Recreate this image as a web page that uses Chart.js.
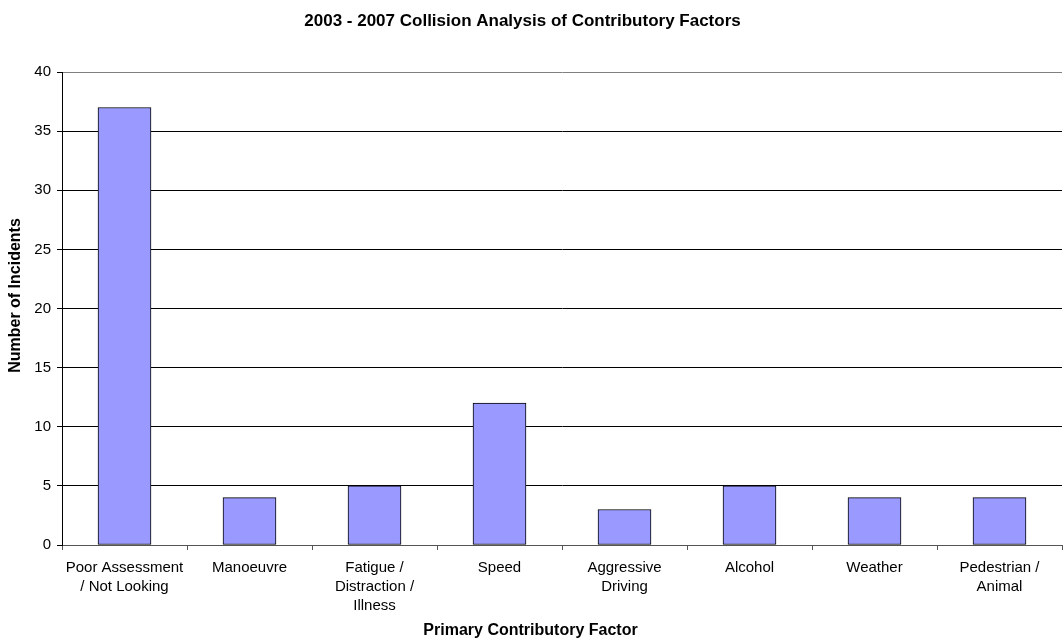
<!DOCTYPE html>
<html>
<head>
<meta charset="utf-8">
<title>2003 - 2007 Collision Analysis of Contributory Factors</title>
<script src="https://cdn.jsdelivr.net/npm/chart.js@4/dist/chart.umd.min.js"></script>
<style>
  html, body { margin: 0; padding: 0; background: #ffffff; }
  #wrap { width: 1063px; height: 641px; }
  canvas { display: block; }
</style>
</head>
<body>
<div id="wrap"><canvas id="chart" width="1063" height="641"></canvas></div>
<script>
// Chart text
const chartTitle = '2003 - 2007 Collision Analysis of Contributory Factors';
const xAxisTitle = 'Primary Contributory Factor';
const yAxisTitle = 'Number of Incidents';

// Categories (multi-line labels as arrays)
const categories = [
  ['Poor Assessment', '/ Not Looking'],
  'Manoeuvre',
  ['Fatigue /', 'Distraction /', 'Illness'],
  'Speed',
  ['Aggressive', 'Driving'],
  'Alcohol',
  'Weather',
  ['Pedestrian /', 'Animal']
];

// Number of incidents per factor
const incidents = [37, 4, 5, 12, 3, 5, 4, 4];

// Value axis ticks
const yTicks = [0, 5, 10, 15, 20, 25, 30, 35, 40];

const FONT = '"Liberation Sans", Arial, Helvetica, sans-serif';

// Draws the chart title and both axis titles
const captions = {
  id: 'captions',
  afterDraw(chart) {
    const { ctx, chartArea } = chart;
    ctx.save();
    ctx.fillStyle = '#000000';
    ctx.textAlign = 'center';
    ctx.textBaseline = 'middle';

    ctx.font = 'bold 17px ' + FONT;
    ctx.fillText(chartTitle, chart.width / 2 - 9, 21);

    ctx.font = 'bold 16px ' + FONT;
    ctx.fillText(xAxisTitle, chart.width / 2 - 1, 631);

    ctx.translate(16, (chartArea.top + chartArea.bottom) / 2 - 13);
    ctx.rotate(-Math.PI / 2);
    ctx.fillText(yAxisTitle, 0, 0);
    ctx.restore();
  }
};

new Chart(document.getElementById('chart'), {
  type: 'bar',
  data: {
    labels: categories,
    datasets: [{
      label: yAxisTitle,
      data: incidents,
      backgroundColor: '#9999ff',
      borderColor: '#000000',
      borderWidth: 1,
      borderSkipped: false,
      barThickness: 53
    }]
  },
  options: {
    responsive: false,
    animation: false,
    devicePixelRatio: 1,
    // 1000px wide plot keeps the 125px category slots on whole pixels
    layout: { padding: { top: 72, right: 1, bottom: 0, left: 0 } },
    plugins: {
      legend: { display: false },
      title: { display: false },
      tooltip: { enabled: false }
    },
    scales: {
      x: {
        offset: true,
        grid: {
          offset: true,
          drawOnChartArea: false,
          drawTicks: true,
          tickLength: 5,
          color: '#555555'
        },
        border: { display: true, color: '#555555', width: 1 },
        ticks: {
          autoSkip: false,
          maxRotation: 0,
          minRotation: 0,
          padding: 8,
          color: '#000000',
          font: { family: FONT, size: 15, lineHeight: 1.27 }
        },
        afterFit(scale) { scale.height = 96; }
      },
      y: {
        min: 0,
        max: 40,
        afterBuildTicks(scale) { scale.ticks = yTicks.map(v => ({ value: v })); },
        grid: {
          drawTicks: true,
          tickLength: 5,
          color: ctx => (ctx.tick && ctx.tick.value === 40 ? '#808080' : '#000000'),
          tickColor: '#000000',
          lineWidth: 1
        },
        border: { display: true, color: '#000000', width: 1 },
        ticks: {
          padding: 6,
          color: '#000000',
          font: { family: FONT, size: 15 }
        },
        afterFit(scale) { scale.width = 62; }
      }
    }
  },
  plugins: [captions]
});
</script>
</body>
</html>
